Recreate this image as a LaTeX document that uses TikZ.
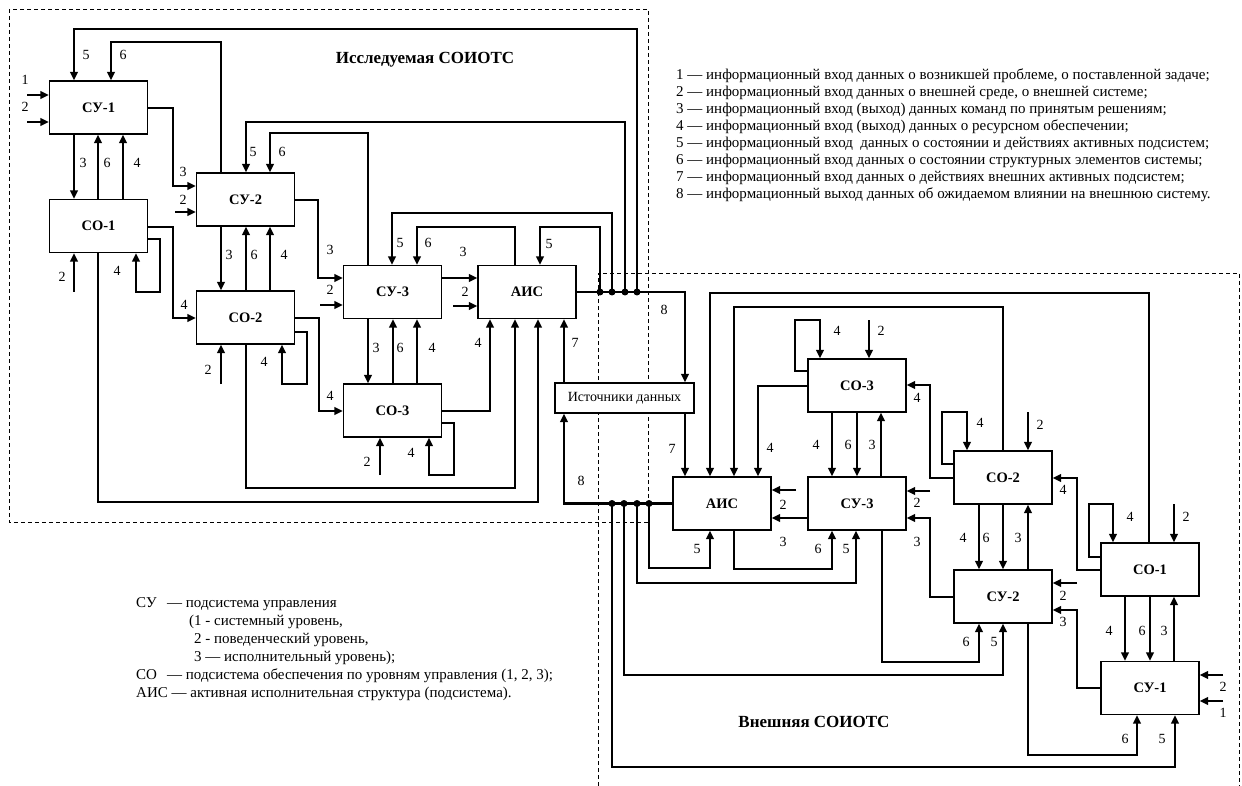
\documentclass[tikz,border=0pt]{standalone}
\usepackage{fontspec}
\setmainfont{Liberation Serif}
\usetikzlibrary{arrows.meta,calc}
\begin{document}
\begin{tikzpicture}[x=1pt,y=-1pt,
  box/.style={draw,line width=1.2pt,minimum width=98pt,minimum height=53pt,inner sep=0pt,font=\bfseries\fontsize{14.5}{14.5}\selectfont},
  ar/.style={line width=2pt,-{Triangle[length=8.5pt,width=7.5pt]}},
  tk/.style={line width=2.8pt},
  num/.style={inner sep=0pt,font=\fontsize{14}{14}\selectfont},
  dot/.style={circle,fill,inner sep=0pt,minimum size=7pt},
  frame/.style={line width=0.7pt,dash pattern=on 4pt off 3pt},
  legt/.style={anchor=base west,inner sep=0pt,font=\fontsize{15}{15}\selectfont}
]
\useasboundingbox (0,0) rectangle (1242,786);
% frames
\draw[frame] (9,9) rectangle (648,522);
\draw[frame] (598,800) -- (598,273) -- (1239,273) -- (1239,800);
% ---------- left boxes
\node[box] (su1) at (98.5,107.5) {СУ-1};
\node[box] (co1) at (98.5,226) {СО-1};
\node[box] (su2) at (245.5,199.5) {СУ-2};
\node[box] (co2) at (245.5,317.5) {СО-2};
\node[box] (su3) at (392.5,292) {СУ-3};
\node[box] (co3) at (392.5,410.5) {СО-3};
\node[box] (aisL) at (527,292) {АИС};
\node[draw,fill=white,line width=1.2pt,minimum width=139pt,minimum height=30pt,inner sep=0pt,font=\fontsize{14}{14}\selectfont] (src) at (624.5,398) {Источники данных};
% ---------- right boxes
\node[box] (co3R) at (857,385.5) {СО-3};
\node[box] (aisR) at (722,503.5) {АИС};
\node[box] (su3R) at (857,503.5) {СУ-3};
\node[box] (co2R) at (1003,477.5) {СО-2};
\node[box] (su2R) at (1003,596.5) {СУ-2};
\node[box] (co1R) at (1150,569.5) {СО-1};
\node[box] (su1R) at (1150,688) {СУ-1};
% junction coordinates
\coordinate (jL1) at (aisL.east -| 600,0);
\coordinate (jL2) at (aisL.east -| 612,0);
\coordinate (jL3) at (aisL.east -| 625,0);
\coordinate (jL4) at (aisL.east -| 637,0);
\coordinate (jR1) at (aisR.west -| 612,0);
\coordinate (jR2) at (aisR.west -| 624,0);
\coordinate (jR3) at (aisR.west -| 637,0);
\coordinate (jR4) at (aisR.west -| 649,0);
% ---------- left connectors
\coordinate (i1) at (27,95);
\draw[ar] (i1) -- (i1 -| su1.west);
\coordinate (i2) at (27,122);
\draw[ar] (i2) -- (i2 -| su1.west);
\draw[ar] (jL4) |- (74,29) -- (su1.north -| 74,0);
\draw[ar,tk] (su2.north -| 221,0) |- (111,42) -- (su1.north -| 111,0);
\draw[ar] (su1.south -| 74,0) -- (co1.north -| 74,0);
\draw[ar] (co1.north -| 98,0) -- (su1.south -| 98,0);
\draw[ar] (co1.north -| 123,0) -- (su1.south -| 123,0);
\draw[ar,tk] (su1.east |- 0,108) -| (173,186) -- (su2.west |- 0,186);
\coordinate (c1) at (175,212);
\draw[ar] (c1) -- (c1 -| su2.west);
\draw[ar,tk] (co1.east |- 0,227) -| (173,318) -- (co2.west |- 0,318);
\draw[ar,tk] (co1.east |- 0,239) -| (160,292) -| (co1.south -| 136,0);
\coordinate (c2) at (74,292);
\draw[ar,tk] (c2) -- (c2 |- co1.south);
\draw[ar] (co1.south -| 98,0) |- (538,502) -- (aisL.south -| 538,0);
\draw[ar] (su2.south -| 221,0) -- (co2.north -| 221,0);
\draw[ar] (co2.north -| 246,0) -- (su2.south -| 246,0);
\draw[ar] (co2.north -| 270,0) -- (su2.south -| 270,0);
\draw[ar] (jL3) |- (246,122) -- (su2.north -| 246,0);
\draw[ar,tk] (su3.north -| 368,0) |- (270,133) -- (su2.north -| 270,0);
\draw[ar] (su2.east |- 0,200) -| (318,278) -- (su3.west |- 0,278);
\coordinate (c3) at (320,305);
\draw[ar,tk] (c3) -- (c3 -| su3.west);
\draw[ar] (co2.east |- 0,318) -| (319,411) -- (co3.west |- 0,411);
\draw[ar,tk] (co2.east |- 0,332) -| (307,384) -| (co2.south -| 282,0);
\coordinate (c4) at (221,384);
\draw[ar,tk] (c4) -- (c4 |- co2.south);
\draw[ar] (co2.south -| 246,0) |- (515,488) -- (aisL.south -| 515,0);
\draw[ar] (su3.south -| 368,0) -- (co3.north -| 368,0);
\draw[ar] (co3.north -| 393,0) -- (su3.south -| 393,0);
\draw[ar] (co3.north -| 417,0) -- (su3.south -| 417,0);
\draw[ar] (jL2) |- (392,213) -- (su3.north -| 392,0);
\draw[ar,tk] (aisL.north -| 515,0) |- (417,227) -- (su3.north -| 417,0);
\draw[ar] (su3.east |- 0,278) -- (aisL.west |- 0,278);
\coordinate (c5) at (453,306);
\draw[ar,tk] (c5) -- (c5 -| aisL.west);
\draw[ar,tk] (jL1) |- (540,227) -- (aisL.north -| 540,0);
\draw[ar] (co3.east |- 0,411) -| (aisL.south -| 490,0);
\draw[ar] (co3.east |- 0,423) -| (454,475) -| (co3.south -| 429,0);
\coordinate (c6) at (380,475);
\draw[ar] (c6) -- (c6 |- co3.south);
\draw[ar] (src.north -| 564,0) -- (aisL.south -| 564,0);
\draw[ar,tk] (aisL.east) -| (src.north -| 685,0);
\draw[ar,tk] (aisR.west) -| (src.south -| 564,0);
% ---------- right connectors
\draw[ar] (jR4) |- (710,568) -- (aisR.south -| 710,0);
\draw[ar] (jR3) |- (856,583) -- (su3R.south -| 856,0);
\draw[ar] (jR2) |- (1003,675) -- (su2R.south -| 1003,0);
\draw[ar,tk] (jR1) |- (1175,767) -- (su1R.south -| 1175,0);
\draw[ar] (aisR.south -| 734,0) |- (832,569) -- (su3R.south -| 832,0);
\draw[ar] (su3R.south -| 882,0) |- (979,662) -- (su2R.south -| 979,0);
\draw[ar] (su2R.south -| 1028,0) |- (1137,755) -- (su1R.south -| 1137,0);
\draw[ar,tk] (su3R.west |- 0,518) -- (aisR.east |- 0,518);
\coordinate (c7) at (796,490);
\draw[ar,tk] (c7) -- (c7 -| aisR.east);
\draw[ar,tk] (co3R.west |- 0,371) -| (795,320) -| (co3R.north -| 820,0);
\coordinate (c8) at (869,320);
\draw[ar] (c8) -- (c8 |- co3R.north);
\draw[ar] (co3R.west |- 0,386) -| (aisR.north -| 758,0);
\draw[ar] (src.south -| 685,0) -- (aisR.north -| 685,0);
\draw[ar] (co1R.north -| 1149,0) |- (710,293) -- (aisR.north -| 710,0);
\draw[ar] (co2R.north -| 1003,0) |- (734,307) -- (aisR.north -| 734,0);
\draw[ar] (co3R.south -| 832,0) -- (su3R.north -| 832,0);
\draw[ar] (co3R.south -| 857,0) -- (su3R.north -| 857,0);
\draw[ar] (su3R.north -| 881,0) -- (co3R.south -| 881,0);
\draw[ar] (co2R.west |- 0,464) -| (942,412) -| (co2R.north -| 967,0);
\coordinate (c9) at (1028,412);
\draw[ar] (c9) -- (c9 |- co2R.north);
\draw[ar] (co2R.west |- 0,478) -| (930,385) -- (co3R.east |- 0,385);
\draw[ar] (co1R.west |- 0,570) -| (1077,478) -- (co2R.east |- 0,478);
\draw[ar] (co2R.south -| 979,0) -- (su2R.north -| 979,0);
\draw[ar] (co2R.south -| 1003,0) -- (su2R.north -| 1003,0);
\draw[ar] (su2R.north -| 1028,0) -- (co2R.south -| 1028,0);
\draw[ar,tk] (su2R.west |- 0,597) -| (930,518) -- (su3R.east |- 0,518);
\coordinate (c10) at (930,491);
\draw[ar,tk] (c10) -- (c10 -| su3R.east);
\coordinate (c11) at (1077,583);
\draw[ar,tk] (c11) -- (c11 -| su2R.east);
\draw[ar,tk] (su1R.west |- 0,688) -| (1077,610) -- (su2R.east |- 0,610);
\draw[ar] (co1R.south -| 1125,0) -- (su1R.north -| 1125,0);
\draw[ar] (co1R.south -| 1150,0) -- (su1R.north -| 1150,0);
\draw[ar] (su1R.north -| 1174,0) -- (co1R.south -| 1174,0);
\draw[ar] (co1R.west |- 0,557) -| (1089,504) -| (co1R.north -| 1113,0);
\coordinate (c12) at (1174,504);
\draw[ar] (c12) -- (c12 |- co1R.north);
\coordinate (c13) at (1223,675);
\draw[ar,tk] (c13) -- (c13 -| su1R.east);
\coordinate (c14) at (1223,701);
\draw[ar,tk] (c14) -- (c14 -| su1R.east);
% dots
\node[dot] (dL1) at (jL1) {};
\node[dot] (dL2) at (jL2) {};
\node[dot] (dL3) at (jL3) {};
\node[dot] (dL4) at (jL4) {};
\node[dot] (dR1) at (jR1) {};
\node[dot] (dR2) at (jR2) {};
\node[dot] (dR3) at (jR3) {};
\node[dot] (dR4) at (jR4) {};
% ---------- number labels, left
\node[num] (n1) at (25,80) {1};
\node[num] (n2) at (25,107) {2};
\node[num] (n3) at (86,55) {5};
\node[num] (n4) at (123,55) {6};
\node[num] (n5) at (83,163) {3};
\node[num] (n6) at (107,163) {6};
\node[num] (n7) at (137,163) {4};
\node[num] (n8) at (183,172) {3};
\node[num] (n9) at (183,200) {2};
\node[num] (n10) at (253,152) {5};
\node[num] (n11) at (282,152) {6};
\node[num] (n12) at (229,255) {3};
\node[num] (n13) at (254,255) {6};
\node[num] (n14) at (284,255) {4};
\node[num] (n15) at (330,250) {3};
\node[num] (n16) at (330,290) {2};
\node[num] (n17) at (184,305) {4};
\node[num] (n18) at (117,271) {4};
\node[num] (n19) at (62,277) {2};
\node[num] (n20) at (264,362) {4};
\node[num] (n21) at (208,370) {2};
\node[num] (n22) at (330,396) {4};
\node[num] (n23) at (400,243) {5};
\node[num] (n24) at (428,243) {6};
\node[num] (n25) at (463,252) {3};
\node[num] (n26) at (465,292) {2};
\node[num] (n27) at (549,244) {5};
\node[num] (n28) at (376,348) {3};
\node[num] (n29) at (400,348) {6};
\node[num] (n30) at (432,348) {4};
\node[num] (n31) at (478,343) {4};
\node[num] (n32) at (575,343) {7};
\node[num] (n33) at (411,453) {4};
\node[num] (n34) at (367,462) {2};
\node[num] (n35) at (664,310) {8};
\node[num] (n36) at (581,481) {8};
% ---------- number labels, right
\node[num] (m1) at (837,331) {4};
\node[num] (m2) at (881,331) {2};
\node[num] (m3) at (770,448) {4};
\node[num] (m4) at (672,449) {7};
\node[num] (m5) at (816,445) {4};
\node[num] (m6) at (848,445) {6};
\node[num] (m7) at (872,445) {3};
\node[num] (m8) at (783,505) {2};
\node[num] (m9) at (697,549) {5};
\node[num] (m10) at (783,542) {3};
\node[num] (m11) at (818,549) {6};
\node[num] (m12) at (846,549) {5};
\node[num] (m13) at (980,423) {4};
\node[num] (m14) at (1040,425) {2};
\node[num] (m15) at (917,398) {4};
\node[num] (m16) at (1063,490) {4};
\node[num] (m17) at (963,538) {4};
\node[num] (m18) at (986,538) {6};
\node[num] (m19) at (1018,538) {3};
\node[num] (m20) at (917,503) {2};
\node[num] (m21) at (917,542) {3};
\node[num] (m22) at (1063,596) {2};
\node[num] (m23) at (1063,622) {3};
\node[num] (m24) at (966,642) {6};
\node[num] (m25) at (994,642) {5};
\node[num] (m26) at (1109,631) {4};
\node[num] (m27) at (1142,631) {6};
\node[num] (m28) at (1164,631) {3};
\node[num] (m29) at (1130,517) {4};
\node[num] (m30) at (1186,517) {2};
\node[num] (m31) at (1223,687) {2};
\node[num] (m32) at (1223,713) {1};
\node[num] (m33) at (1125,739) {6};
\node[num] (m34) at (1162,739) {5};
% ---------- titles
\node[font=\bfseries\fontsize{17}{17}\selectfont,inner sep=0pt] (tL) at (425,60) {Исследуемая СОИОТС};
\node[font=\bfseries\fontsize{17}{17}\selectfont,inner sep=0pt] (tR) at (814,722) {Внешняя СОИОТС};
% ---------- legend top right
\node[legt] (g1) at (676,80) {1 — информационный вход данных о возникшей проблеме, о поставленной задаче;};
\node[legt] (g2) at (676,97) {2 — информационный вход данных о внешней среде, о внешней системе;};
\node[legt] (g3) at (676,114) {3 — информационный вход (выход) данных команд по принятым решениям;};
\node[legt] (g4) at (676,131) {4 — информационный вход (выход) данных о ресурсном обеспечении;};
\node[legt] (g5) at (676,148) {5 — информационный вход \ данных о состоянии и действиях активных подсистем;};
\node[legt] (g6) at (676,165) {6 — информационный вход данных о состоянии структурных элементов системы;};
\node[legt] (g7) at (676,182) {7 — информационный вход данных о действиях внешних активных подсистем;};
\node[legt] (g8) at (676,199) {8 — информационный выход данных об ожидаемом влиянии на внешнюю систему.};
% ---------- legend bottom left
\node[legt] (b1a) at (136,607) {СУ};
\node[legt] (b1b) at (167,607) {— подсистема управления};
\node[legt] (b2) at (189,625) {(1 - системный уровень,};
\node[legt] (b3) at (194,643) {2 - поведенческий уровень,};
\node[legt] (b4) at (194,661) {3 — исполнительный уровень);};
\node[legt] (b5a) at (136,679) {СО};
\node[legt] (b5b) at (167,679) {— подсистема обеспечения по уровням управления (1, 2, 3);};
\node[legt] (b6) at (136,697) {АИС — активная исполнительная структура (подсистема).};
\end{tikzpicture}
\end{document}
